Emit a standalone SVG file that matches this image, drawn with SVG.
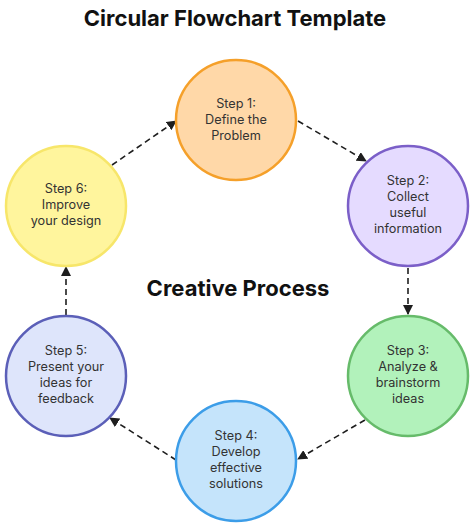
<svg xmlns="http://www.w3.org/2000/svg" width="474" height="527" viewBox="0 0 474 527">
<defs>
<marker id="ah" viewBox="0 0 10 10" refX="9" refY="5" markerWidth="10" markerHeight="10" markerUnits="userSpaceOnUse" orient="auto">
<path d="M0,0 L10,5 L0,10 z" fill="#1e1e1e"/>
</marker>
<style>
.title{font-family:Inter,"Noto Sans",sans-serif;font-weight:700;font-size:22px;fill:#111;text-anchor:middle}
.lbl{font-family:Inter,"Noto Sans",sans-serif;font-size:12.7px;fill:#333;text-anchor:middle}
.node circle{stroke-width:2.5}
.conn path{fill:none;stroke:#1e1e1e;stroke-width:1.6;stroke-dasharray:6 4;marker-end:url(#ah)}
</style>
</defs>
<rect width="474" height="527" fill="#fff"/>
<text class="title" x="235" y="26">Circular Flowchart Template</text>
<text class="title" x="238" y="296">Creative Process</text>
<g class="conn" id="connectors">
<path d="M298,121 L366,161"/>
<path d="M408,268 L408,314"/>
<path d="M365,420 L298,459"/>
<path d="M176,460 L110,418"/>
<path d="M66,315 L66,267"/>
<path d="M112,165 L176,121"/>
</g>
<g class="node" id="step1">
<circle cx="236" cy="120" r="60" fill="#FFD8A8" stroke="#F5A02A"/>
<text class="lbl" x="236" y="108">Step 1:</text>
<text class="lbl" x="236" y="124">Define the</text>
<text class="lbl" x="236" y="140">Problem</text>
</g>
<g class="node" id="step2">
<circle cx="408" cy="206" r="60" fill="#E5DBFF" stroke="#7B5FC8"/>
<text class="lbl" x="408" y="185">Step 2:</text>
<text class="lbl" x="408" y="201">Collect</text>
<text class="lbl" x="408" y="217">useful</text>
<text class="lbl" x="408" y="233">information</text>
</g>
<g class="node" id="step3">
<circle cx="408" cy="376" r="60" fill="#B2F2BB" stroke="#66BB6A"/>
<text class="lbl" x="408" y="355">Step 3:</text>
<text class="lbl" x="408" y="371">Analyze &amp;</text>
<text class="lbl" x="408" y="387">brainstorm</text>
<text class="lbl" x="408" y="403">ideas</text>
</g>
<g class="node" id="step4">
<circle cx="236" cy="461" r="60" fill="#C5E4FB" stroke="#3C9DE8"/>
<text class="lbl" x="236" y="440">Step 4:</text>
<text class="lbl" x="236" y="456">Develop</text>
<text class="lbl" x="236" y="472">effective</text>
<text class="lbl" x="236" y="488">solutions</text>
</g>
<g class="node" id="step5">
<circle cx="66" cy="376" r="60" fill="#DEE5FB" stroke="#5B5FB8"/>
<text class="lbl" x="66" y="355">Step 5:</text>
<text class="lbl" x="66" y="371">Present your</text>
<text class="lbl" x="66" y="387">ideas for</text>
<text class="lbl" x="66" y="403">feedback</text>
</g>
<g class="node" id="step6">
<circle cx="66" cy="206" r="60" fill="#FFF59D" stroke="#F7E66A"/>
<text class="lbl" x="66" y="193">Step 6:</text>
<text class="lbl" x="66" y="209">Improve</text>
<text class="lbl" x="66" y="225">your design</text>
</g>
</svg>
